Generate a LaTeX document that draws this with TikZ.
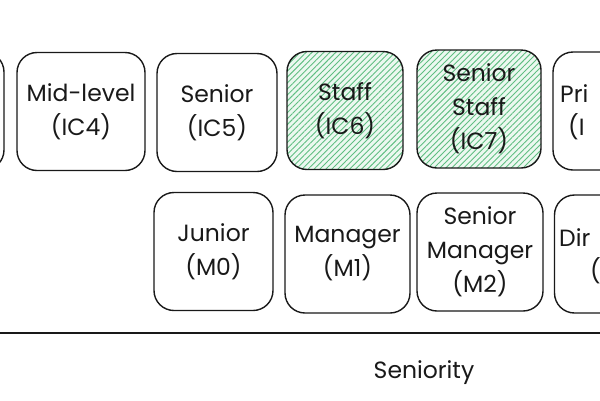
\documentclass[tikz,border=0pt]{standalone}
\usepackage{fontspec}
\setmainfont{Poppins}
\usepackage{xcolor}
\usepackage{tikz}
\usetikzlibrary{positioning,patterns.meta}
\definecolor{skInk}    {RGB}{ 25, 25, 25}
\definecolor{skGreen}  {RGB}{ 96,190,130}
\definecolor{skGreenL} {RGB}{236,248,240}

\begin{document}
\begin{tikzpicture}[x=1pt,y=-1pt,
  every node/.style={font=\fontsize{23.5}{34}\selectfont,text=skInk},
  card/.style={draw=skInk,line width=1.4pt,rounded corners=20pt,
               minimum width=122pt,minimum height=118pt,align=center,
               inner sep=0pt},
  hatched/.style={card,preaction={fill=skGreenL},
               pattern={Lines[angle=45,distance=4.2pt,line width=0.9pt]},
               pattern color=skGreen},
  lbl/.style={inner sep=0pt}
]
\clip (0,0) rectangle (600,400);
\useasboundingbox (0,0) rectangle (600,400);
% individual contributor track
\node[card] (ic3) at (-57,111) {};
\node[card,minimum width=128pt] (ic4) at (81,111.5) {Mid-level\\(IC4)};
\node[card,minimum width=120pt] (ic5) at (217,112.5) {Senior\\(IC5)};
\node[hatched,minimum width=116pt] (ic6) at (345,110.5) {Staff\\(IC6)};
\node[hatched,minimum width=124pt] (ic7) at (479,109) {Senior\\Staff\\(IC7)};
\node[card,minimum width=124pt] (ic8) at (615,111) {};
\node[lbl,anchor=base west] (ic8a) at (560,102) {Pri};
\node[lbl,anchor=base west] (ic8b) at (568,135) {(I};
% management track
\node[card,minimum width=119pt] (m0) at (213.5,251.5) {Junior\\(M0)};
\node[card,minimum width=125pt] (m1) at (347.5,254) {Manager\\(M1)};
\node[card,minimum width=126pt] (m2) at (480,252) {Senior\\Manager\\(M2)};
\node[card,minimum width=125pt] (m3) at (617,254) {};
\node[lbl,anchor=base west] (m3a) at (559,246) {Dir};
\node[lbl,anchor=base west] (m3b) at (590,279) {(};
% axis
\coordinate (axl) at (-5,333);
\coordinate (axr) at (605,333);
\draw[skInk,line width=1.4pt] (axl) -- (axr);
\node (axis) at (424,373) {Seniority};
\end{tikzpicture}
\end{document}
